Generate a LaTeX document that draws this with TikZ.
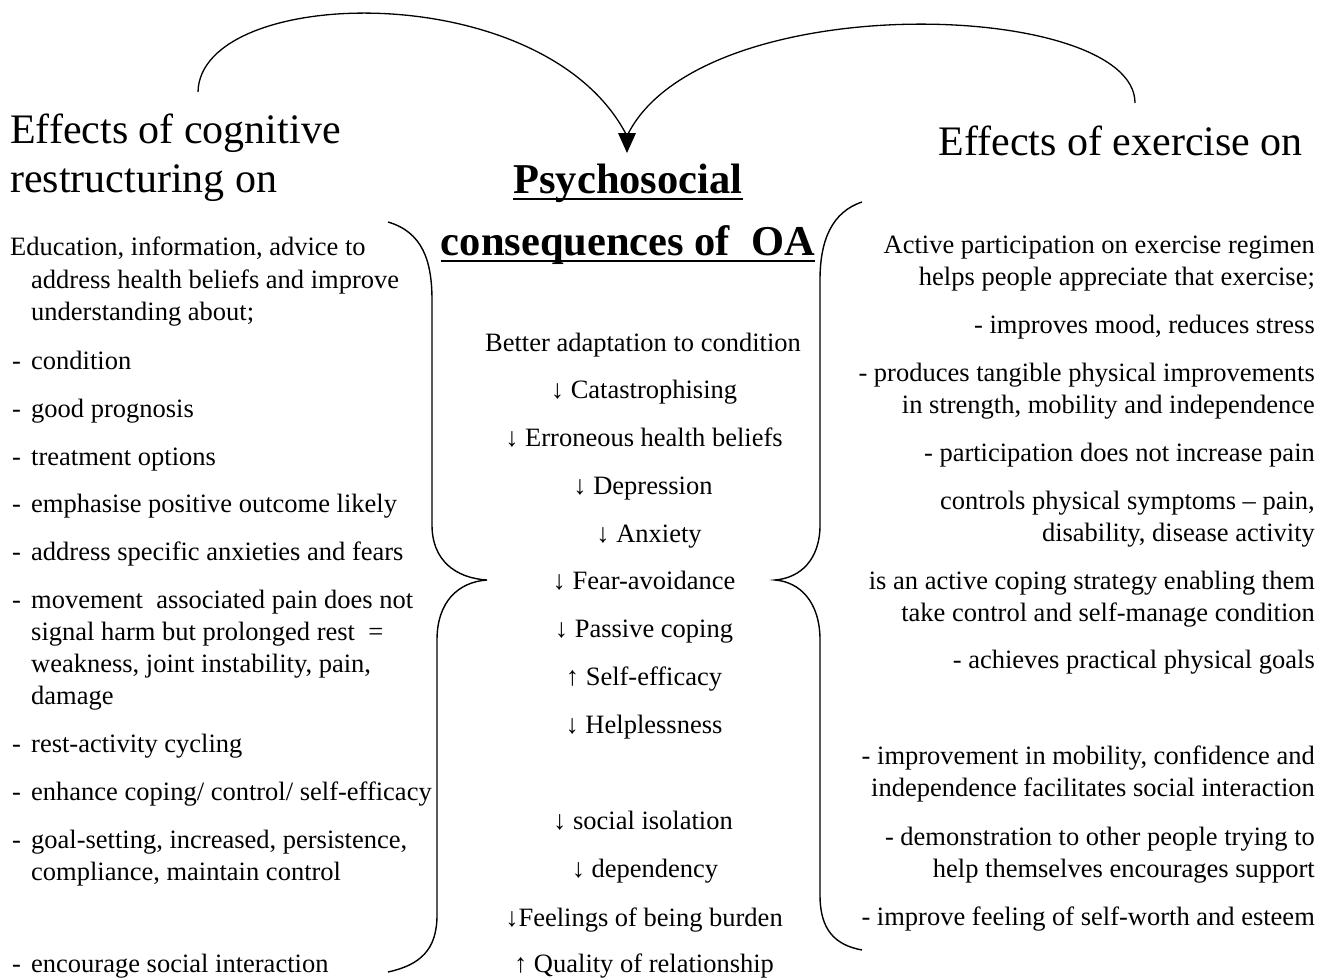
\documentclass[tikz,border=0pt]{standalone}
\usepackage{fontspec}
\setmainfont{Liberation Serif}
\newcommand\bodyfs{\fontsize{26.5}{32}\selectfont}
\newcommand\headfs{\fontsize{42}{50}\selectfont}
\newcommand\titlefs{\fontsize{42.5}{50}\selectfont\bfseries}
\tikzset{
  lt/.style={anchor=base west, inner sep=0pt, font=\bodyfs},
  rt/.style={anchor=base east, inner sep=0pt, font=\bodyfs},
  ct/.style={anchor=base, inner sep=0pt, font=\bodyfs},
  head/.style={inner sep=0pt, font=\headfs},
  ttl/.style={anchor=base, inner sep=0pt, font=\titlefs},
  arc/.style={line width=1.3pt},
  brace/.style={line width=1.4pt},
  uline/.style={line width=2.2pt}
}
\begin{document}
\begin{tikzpicture}[x=1pt,y=-1pt]
\useasboundingbox (0,0) rectangle (1332,979);
\fill[white] (0,0) rectangle (1332,979);

% headings
\node[head,anchor=base west] (hl1) at (10,143) {Effects of cognitive};
\node[head,anchor=base west] (hl2) at (10,192) {restructuring on};
\node[head,anchor=base east] (hr) at (1303,155) {Effects of exercise on};

% title
\node[ttl] (t1) at (628,193) {Psychosocial};
\node[ttl] (t2) at (628,255) {consequences of\ \ OA};
\draw[uline] ([yshift=-6pt]t1.base west) -- ([yshift=-6pt]t1.base east);
\draw[uline] ([yshift=-6pt]t2.base west) -- ([yshift=-6pt]t2.base east);

% top arcs and arrowhead
\coordinate (lstart) at (198,92);
\coordinate (rstart) at (1135,103);
\coordinate (tipbase) at (627,136);
\coordinate (tip) at (627,153);
\draw[arc] (lstart) .. controls (200,-15) and (545,-25) .. (tipbase);
\draw[arc] (rstart) .. controls (1135,0) and (700,-15) .. (tipbase);
\fill (618,133) -- (636,133) -- (tip) -- cycle;

% braces
\draw[brace] (388,222) .. controls (422,232) and (432,260) .. (432,300)
  -- (432,525) .. controls (432,560) and (455,578) .. (487,580)
  .. controls (458,582) and (437,602) .. (437,640)
  -- (437,915) .. controls (437,950) and (420,965) .. (388,972);
\draw[brace] (862,202) .. controls (832,212) and (820,240) .. (820,280)
  -- (820,525) .. controls (820,560) and (800,578) .. (775,580)
  .. controls (800,582) and (820,602) .. (820,640)
  -- (820,895) .. controls (820,930) and (835,945) .. (862,950);

% left column
\node[lt] (l1) at (10,255) {Education, information, advice to};
\node[lt] (l2) at (31,288) {address health beliefs and improve};
\node[lt] (l3) at (31,320) {understanding about;};
\node[lt] (d1) at (12,369) {-}; \node[lt] (l4) at (31,369) {condition};
\node[lt] (d2) at (12,417) {-}; \node[lt] (l5) at (31,417) {good prognosis};
\node[lt] (d3) at (12,465) {-}; \node[lt] (l6) at (31,465) {treatment options};
\node[lt] (d4) at (12,512) {-}; \node[lt] (l7) at (31,512) {emphasise positive outcome likely};
\node[lt] (d5) at (12,560) {-}; \node[lt] (l8) at (31,560) {address specific anxieties and fears};
\node[lt] (d6) at (12,608) {-}; \node[lt] (l9) at (31,608) {movement\ \ associated pain does not};
\node[lt] (l10) at (31,640) {signal harm but prolonged rest\ \ =};
\node[lt] (l11) at (31,672) {weakness, joint instability, pain,};
\node[lt] (l12) at (31,704) {damage};
\node[lt] (d7) at (12,752) {-}; \node[lt] (l13) at (31,752) {rest-activity cycling};
\node[lt] (d8) at (12,800) {-}; \node[lt] (l14) at (31,800) {enhance coping/ control/ self-efficacy};
\node[lt] (d9) at (12,848) {-}; \node[lt] (l15) at (31,848) {goal-setting, increased, persistence,};
\node[lt] (l16) at (31,880) {compliance, maintain control};
\node[lt] (d10) at (12,972) {-}; \node[lt] (l17) at (31,972) {encourage social interaction};

% centre column
\node[ct] (c1) at (643,351) {Better adaptation to condition};
\node[ct] (c2) at (644,398) {↓ Catastrophising};
\node[ct] (c3) at (644,446) {↓ Erroneous health beliefs};
\node[ct] (c4) at (643,494) {↓ Depression};
\node[ct] (c5) at (649,542) {↓ Anxiety};
\node[ct] (c6) at (644,589) {↓ Fear-avoidance};
\node[ct] (c7) at (644,637) {↓ Passive coping};
\node[ct] (c8) at (644,685) {↑ Self-efficacy};
\node[ct] (c9) at (644,733) {↓ Helplessness};
\node[ct] (c10) at (643,829) {↓ social isolation};
\node[ct] (c11) at (645,877) {↓ dependency};
\node[ct] (c12) at (644,926) {↓Feelings of being burden};
\node[ct] (c13) at (644,972) {↑ Quality of relationship};

% right column
\node[rt] (r1) at (1315,253) {Active participation on exercise regimen};
\node[rt] (r2) at (1315,285) {helps people appreciate that exercise;};
\node[rt] (r3) at (1315,333) {- improves mood, reduces stress};
\node[rt] (r4) at (1315,381) {- produces tangible physical improvements};
\node[rt] (r5) at (1315,413) {in strength, mobility and independence};
\node[rt] (r6) at (1315,461) {- participation does not increase pain};
\node[rt] (r7) at (1315,509) {controls physical symptoms – pain,};
\node[rt] (r8) at (1315,541) {disability, disease activity};
\node[rt] (r9) at (1315,589) {is an active coping strategy enabling them};
\node[rt] (r10) at (1315,621) {take control and self-manage condition};
\node[rt] (r11) at (1315,668) {- achieves practical physical goals};
\node[rt] (r12) at (1315,764) {- improvement in mobility, confidence and};
\node[rt] (r13) at (1315,796) {independence facilitates social interaction};
\node[rt] (r14) at (1315,845) {- demonstration to other people trying to};
\node[rt] (r15) at (1315,877) {help themselves encourages support};
\node[rt] (r16) at (1315,925) {- improve feeling of self-worth and esteem};
\end{tikzpicture}
\end{document}
